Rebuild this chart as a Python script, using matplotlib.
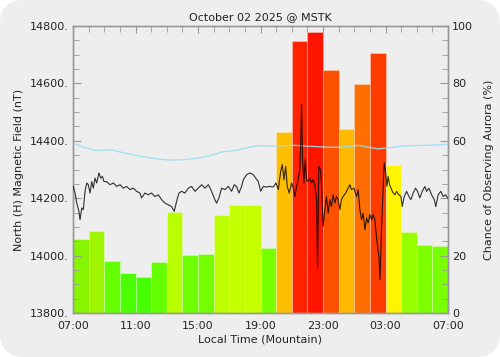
import numpy as np
import matplotlib
matplotlib.use("Agg")
import matplotlib.pyplot as plt
from matplotlib.patches import FancyBboxPatch
from matplotlib.ticker import MultipleLocator

# hourly aurora chance (%) from 07:00 to 07:00 next day
aurora_pct = [25.8, 28.5, 18.2, 14.1, 12.5, 17.9, 35.2, 20.1, 20.7, 34.3, 37.7, 37.7,
              22.6, 63.1, 94.9, 98.0, 84.5, 64.0, 79.9, 90.6, 51.4, 28.2, 23.7, 23.2]
bar_colors = ['#88f500', '#a0f500', '#64ff00', '#4bff00', '#46ff00', '#64ff00',
              '#b9ff00', '#6eff00', '#73ff00', '#beff00', '#c3ff00', '#c3ff00',
              '#78ff00', '#ffbe00', '#ff2300', '#ff1400', '#ff5000', '#ffb900',
              '#ff6e00', '#ff3c00', '#fff500', '#96ff00', '#7dff00', '#78ff00']

# magnetic field trace (hours since 07:00, nT)
field_h = [0.02, 0.13, 0.24, 0.38, 0.45, 0.56, 0.66, 0.77, 0.88, 0.98, 1.09, 1.2, 1.3,
           1.41, 1.52, 1.66, 1.77, 1.88, 1.98, 2.15, 2.37, 2.58, 2.8, 3.01, 3.22, 3.43,
           3.65, 3.86, 4.07, 4.28, 4.39, 4.6, 4.82, 5.03, 5.24, 5.46, 5.67, 5.88, 6.1,
           6.31, 6.48, 6.63, 6.78, 6.95, 7.16, 7.38, 7.59, 7.81, 8.02, 8.23, 8.45, 8.66,
           8.87, 9.08, 9.19, 9.34, 9.51, 9.72, 9.94, 10.15, 10.32, 10.47, 10.62, 10.79,
           10.9, 11.11, 11.32, 11.54, 11.69, 11.86, 12.01, 12.18, 12.39, 12.6, 12.82,
           12.99, 13.14, 13.29, 13.39, 13.5, 13.61, 13.71, 13.84, 13.99, 14.1, 14.2,
           14.31, 14.41, 14.52, 14.59, 14.63, 14.69, 14.78, 14.86, 14.95, 15.05, 15.16,
           15.27, 15.37, 15.48, 15.59, 15.65, 15.73, 15.84, 15.91, 16.01, 16.12, 16.22,
           16.33, 16.44, 16.54, 16.65, 16.76, 16.86, 16.97, 17.08, 17.18, 17.29, 17.45,
           17.61, 17.72, 17.82, 17.98, 18.15, 18.25, 18.36, 18.47, 18.57, 18.68, 18.79,
           18.89, 19.0, 19.11, 19.21, 19.32, 19.42, 19.49, 19.58, 19.65, 19.75, 19.86,
           19.92, 20.01, 20.09, 20.17, 20.26, 20.39, 20.49, 20.6, 20.71, 20.86, 20.99,
           21.07, 21.2, 21.35, 21.5, 21.62, 21.77, 21.92, 22.05, 22.2, 22.35, 22.52,
           22.63, 22.78, 22.95, 23.12, 23.22, 23.37, 23.54, 23.69, 23.84, 23.97]
field_nt = [14241, 14218, 14183, 14154, 14125, 14166, 14160, 14224, 14253, 14247, 14218,
            14258, 14235, 14270, 14253, 14288, 14270, 14276, 14258, 14258, 14247, 14253,
            14241, 14247, 14235, 14241, 14230, 14235, 14224, 14218, 14201, 14218, 14212,
            14218, 14206, 14212, 14195, 14183, 14177, 14171, 14154, 14189, 14218, 14224,
            14218, 14235, 14241, 14224, 14235, 14247, 14235, 14247, 14224, 14195, 14183,
            14201, 14235, 14230, 14241, 14224, 14247, 14241, 14218, 14241, 14264, 14282,
            14288, 14282, 14270, 14258, 14224, 14241, 14239, 14241, 14239, 14253, 14230,
            14293, 14317, 14264, 14311, 14241, 14218, 14253, 14235, 14206, 14241, 14264,
            14299, 14427, 14526, 14334, 14253, 14334, 14264, 14258, 14270, 14253, 14264,
            14247, 14195, 13957, 14311, 14299, 14241, 14102, 14160, 14206, 14148, 14195,
            14171, 14212, 14183, 14206, 14195, 14160, 14195, 14206, 14218, 14235, 14247,
            14230, 14235, 14206, 14230, 14160, 14125, 14148, 14090, 14131, 14114, 14143,
            14125, 14143, 14125, 14067, 14032, 13997, 13916, 14102, 14253, 14323, 14293,
            14241, 14276, 14247, 14230, 14218, 14212, 14224, 14212, 14206, 14171, 14206,
            14224, 14206, 14195, 14218, 14235, 14224, 14201, 14224, 14241, 14224, 14235,
            14212, 14195, 14171, 14212, 14224, 14206, 14212, 14201]

# quiet-day baseline
base_h = [0, 0.66, 1.41, 1.94, 2.47, 3.01, 3.65, 4.5, 5.36, 6.21, 7.06, 7.91, 8.76, 9.51,
          10.47, 11.11, 11.75, 12.92, 14.2, 15.48, 16.76, 17.61, 18.25, 18.89, 19.53,
          20.17, 21.24, 22.31, 23.37, 24]
base_nt = [14392, 14378, 14367, 14367, 14369, 14361, 14354, 14344, 14337, 14333, 14334,
           14339, 14348, 14361, 14367, 14375, 14383, 14382, 14384, 14380, 14377, 14380,
           14384, 14378, 14372, 14376, 14382, 14384, 14386, 14387]

tick_hours = [0, 4, 8, 12, 16, 20, 24]
tick_labels = ['07:00', '11:00', '15:00', '19:00', '23:00', '03:00', '07:00']
nt_ticks = [13800, 14000, 14200, 14400, 14600, 14800]

plt.rcParams['font.family'] = 'DejaVu Sans'
plt.rcParams['font.size'] = 8
txt = '#222222'
spine = '#999999'

fig = plt.figure(figsize=(5, 3.57), dpi=100)
fig.patch.set_facecolor('white')
bg = FancyBboxPatch((0, 0), 500, 357, boxstyle="round,pad=0,rounding_size=24",
                    transform=None, facecolor='#eeeeee', edgecolor='none', zorder=-10)
fig.patches.append(bg)

ax = fig.add_axes([73 / 500, 44 / 357, 375 / 500, 287 / 357])
ax2 = ax.twinx()
ax.set_facecolor('none')
ax2.set_facecolor('none')

# bars: aurora chance, right-hand scale
ax.bar(np.arange(24), aurora_pct, width=1.0, align='edge', color=bar_colors,
       edgecolor=(1, 1, 1, 0.35), linewidth=0.6, zorder=1)
ax.set_xlim(0, 24)
ax.set_ylim(0, 100)
ax.yaxis.tick_right()
ax.yaxis.set_label_position('right')
ax.yaxis.set_major_locator(MultipleLocator(20))
ax.yaxis.set_minor_locator(MultipleLocator(5))
ax.set_ylabel('Chance of Observing Aurora (%)', color=txt, labelpad=8)
ax.set_xticks(tick_hours)
ax.set_xticklabels(tick_labels)
ax.xaxis.set_minor_locator(MultipleLocator(1))
ax.set_xlabel('Local Time (Mountain)', color=txt, labelpad=2)
ax.tick_params(axis='x', which='both', direction='in', top=True, bottom=False,
               length=4, color=spine, labelcolor=txt, pad=6)
ax.tick_params(axis='x', which='major', length=5)
ax.tick_params(axis='y', which='major', direction='in', length=6, color=spine,
               labelcolor=txt, pad=3, left=False, right=True, labelleft=False, labelright=True)
ax.tick_params(axis='y', which='minor', direction='in', length=4, color=spine,
               left=False, right=True)

# lines: magnetic field, left-hand scale
ax2.yaxis.tick_left()
ax2.yaxis.set_label_position('left')
ax2.plot(base_h, base_nt, color='#99ddf0', linewidth=1.0, alpha=0.85, zorder=2)
ax2.plot(field_h, field_nt, color='black', linewidth=0.8, alpha=0.8, zorder=3)
ax2.set_ylim(13800, 14800)
ax2.set_yticks(nt_ticks)
ax2.set_yticklabels([f'{v}.' for v in nt_ticks])
ax2.yaxis.set_minor_locator(MultipleLocator(50))
ax2.set_ylabel('North (H) Magnetic Field (nT)', color=txt, labelpad=4)
ax2.tick_params(axis='y', which='major', direction='in', length=6, color=spine,
                labelcolor=txt, pad=3, left=True, right=False, labelleft=True, labelright=False)
ax2.tick_params(axis='y', which='minor', direction='in', length=4, color=spine,
                left=True, right=False)
for a in (ax, ax2):
    for s in a.spines.values():
        s.set_color(spine)
        s.set_linewidth(1.0)
ax2.set_title('October 02 2025 @ MSTK', color=txt, fontsize=8, pad=4)

fig.savefig('out.png', dpi=100)
